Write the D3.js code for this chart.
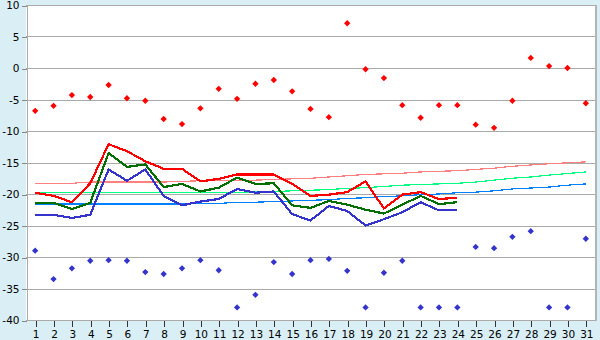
<!DOCTYPE html>
<html>
<head>
<meta charset="utf-8">
<script src="https://cdn.jsdelivr.net/npm/d3@7/dist/d3.min.js"></script>
<style>
  html, body { margin: 0; padding: 0; background: #d9eff5; }
  svg { display: block; }
  text { font-family: "DejaVu Sans", Verdana, sans-serif; font-size: 10px; fill: #000; }
</style>
</head>
<body>
<svg id="chart" width="600" height="340"></svg>
<script>
// Days of the month (x categories)
const days = [1,2,3,4,5,6,7,8,9,10,11,12,13,14,15,16,17,18,19,20,21,22,23,24,25,26,27,28,29,30,31];

// Y axis ticks
const yTicks = [10, 5, 0, -5, -10, -15, -20, -25, -30, -35, -40];

// Record high / record low per day (markers)
const recordHigh = [-6.8,-6.0,-4.3,-4.6,-2.7,-4.8,-5.2,-8.1,-8.9,-6.4,-3.3,-4.9,-2.5,-1.9,-3.7,-6.5,-7.8,7.1,-0.2,-1.6,-5.9,-7.9,-5.9,-5.9,-9.0,-9.5,-5.2,1.6,0.3,0.0,-5.6];
const recordLow  = [-29.0,-33.5,-31.8,-30.6,-30.5,-30.6,-32.4,-32.7,-31.8,-30.5,-32.1,-38.0,-36.0,-30.8,-32.7,-30.5,-30.3,-32.2,-38.0,-32.5,-30.6,-38.0,-38.0,-38.0,-28.4,-28.6,-26.8,-25.9,-38.0,-38.0,-27.1];

// Observed daily max / mean / min (days 1-24)
const dailyHigh = [-19.8,-20.3,-21.3,-18.3,-12.1,-13.2,-14.8,-16.0,-16.0,-18.0,-17.6,-16.9,-16.9,-16.9,-18.4,-20.3,-20.1,-19.7,-18.0,-22.3,-20.1,-19.7,-20.8,-20.6];
const dailyMean = [-21.4,-21.4,-22.4,-21.4,-13.5,-15.7,-15.3,-18.9,-18.4,-19.6,-19.0,-17.4,-18.4,-18.3,-21.8,-22.2,-21.1,-21.7,-22.5,-23.1,-21.7,-20.3,-21.6,-21.3];
const dailyLow  = [-23.3,-23.3,-23.8,-23.3,-16.1,-17.9,-16.1,-20.3,-21.8,-21.2,-20.8,-19.2,-19.8,-19.6,-23.2,-24.2,-21.9,-22.7,-25.0,-24.0,-22.9,-21.3,-22.6,-22.5];

// Climate normals per day
const normalHigh = [-18.3,-18.3,-18.3,-18.1,-18.1,-18.1,-18.1,-18.1,-18.0,-17.9,-17.8,-17.8,-17.8,-17.7,-17.6,-17.5,-17.3,-17.1,-16.9,-16.8,-16.7,-16.5,-16.4,-16.3,-16.1,-15.9,-15.6,-15.4,-15.2,-15.05,-14.9];
const normalMean = [-19.7,-19.8,-19.8,-19.8,-19.8,-19.8,-19.8,-19.8,-19.8,-19.8,-19.7,-19.7,-19.7,-19.6,-19.5,-19.4,-19.3,-19.1,-19.0,-18.8,-18.6,-18.5,-18.4,-18.3,-18.1,-17.8,-17.5,-17.3,-17.0,-16.75,-16.5];
const normalLow  = [-21.6,-21.6,-21.6,-21.6,-21.6,-21.6,-21.6,-21.6,-21.6,-21.5,-21.5,-21.3,-21.3,-21.2,-21.1,-21.0,-20.9,-20.7,-20.6,-20.4,-20.3,-20.1,-20.0,-19.8,-19.7,-19.5,-19.2,-19.05,-18.9,-18.6,-18.4];

const plot = { left: 26, right: 595, top: 5, bottom: 320 };
const svg = d3.select("#chart");

const x = d3.scalePoint().domain(days).range([plot.left, plot.right]).padding(0.5);
const y = d3.scaleLinear().domain([-40, 10]).range([plot.bottom, plot.top]);

// Plot background
svg.append("rect")
  .attr("x", plot.left).attr("y", plot.top)
  .attr("width", plot.right - plot.left).attr("height", plot.bottom - plot.top)
  .attr("fill", "#ffffff");

// Horizontal grid
svg.append("g")
  .selectAll("line").data(yTicks).join("line")
  .attr("x1", plot.left).attr("x2", plot.right)
  .attr("y1", d => Math.round(y(d)) + 0.5).attr("y2", d => Math.round(y(d)) + 0.5)
  .attr("stroke", "#aaaaaa").attr("stroke-width", 1)
  .attr("shape-rendering", "crispEdges");

// Right border
svg.append("line")
  .attr("x1", plot.right + 0.5).attr("x2", plot.right + 0.5)
  .attr("y1", plot.top).attr("y2", plot.bottom + 1)
  .attr("stroke", "#b4b4b4").attr("stroke-width", 2)
  .attr("shape-rendering", "crispEdges");

// Y axis (plain hyphen as minus sign)
const yAxis = svg.append("g")
  .attr("transform", `translate(${plot.left + 0.5},0.5)`)
  .call(d3.axisLeft(y).tickValues(yTicks).tickFormat(d => String(d))
        .tickSize(5).tickPadding(2).tickSizeOuter(0));
yAxis.select(".domain").attr("stroke", "#aaaaaa").attr("shape-rendering", "crispEdges");
yAxis.selectAll(".tick line").attr("stroke", "#888888").attr("shape-rendering", "crispEdges");
yAxis.selectAll("text").style("font-size", "10.5px");

// X axis
const xAxis = svg.append("g")
  .attr("transform", `translate(0.5,${plot.bottom + 0.5})`)
  .call(d3.axisBottom(x).tickSize(6).tickPadding(4).tickSizeOuter(0));
xAxis.select(".domain").remove();
xAxis.selectAll(".tick line").attr("stroke", "#333333").attr("shape-rendering", "crispEdges");
xAxis.selectAll("text").style("font-size", "10.5px");

// Normal lines (thin)
const line = d3.line().x((d, i) => x(days[i])).y(d => y(d));
[[normalHigh, "#ff8080"], [normalMean, "#00ff80"], [normalLow, "#0080ff"]].forEach(([vals, col]) => {
  svg.append("path").datum(vals)
    .attr("d", line)
    .attr("fill", "none").attr("stroke", col).attr("stroke-width", 1.2)
    .attr("shape-rendering", "crispEdges");
});

// Observed lines (thick)
[[dailyLow, "#3434cc"], [dailyMean, "#006f00"], [dailyHigh, "#ff0000"]].forEach(([vals, col]) => {
  svg.append("path").datum(vals)
    .attr("d", line)
    .attr("fill", "none").attr("stroke", col).attr("stroke-width", 2.2)
    .attr("stroke-linejoin", "round")
    .attr("shape-rendering", "crispEdges");
});

// Small diamond marker
const diamond = {
  draw(ctx, size) {
    const r = Math.sqrt(size) / 2;
    ctx.moveTo(0, -r); ctx.lineTo(r, 0); ctx.lineTo(0, r); ctx.lineTo(-r, 0); ctx.closePath();
  }
};
const sym = d3.symbol().type(diamond).size(40);

[[recordHigh, "#ff0000"], [recordLow, "#3434cc"]].forEach(([vals, col]) => {
  svg.append("g").selectAll("path").data(vals).join("path")
    .attr("transform", (d, i) => `translate(${x(days[i])},${y(d)})`)
    .attr("d", sym)
    .attr("fill", col);
});
</script>
</body>
</html>
